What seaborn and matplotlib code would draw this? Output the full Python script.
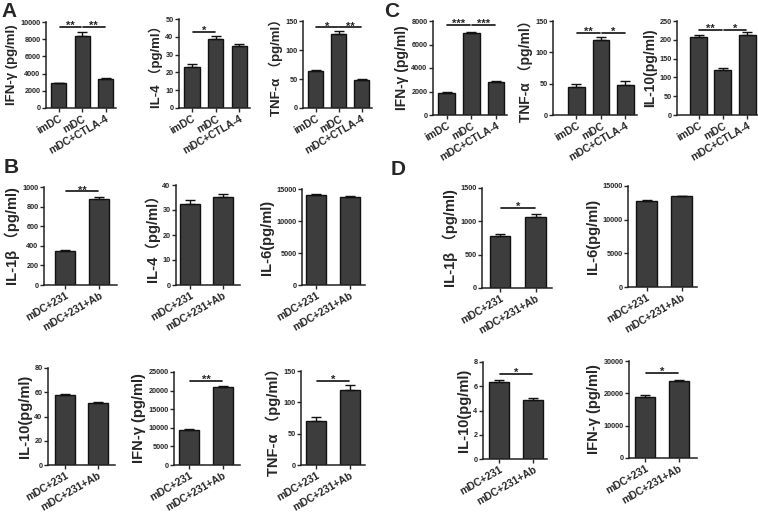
import numpy as np
import pandas as pd
import seaborn as sns
import matplotlib.pyplot as plt

# groups
grp3 = ["imDC", "mDC", "mDC+CTLA-4"]
grp2 = ["mDC+231", "mDC+231+Ab"]

# panel A (imDC / mDC / mDC+CTLA-4)
a_ifng = [2850, 8400, 3400]
a_ifng_err = [80, 400, 120]
a_il4 = [23, 39, 35]
a_il4_err = [1.5, 1.2, 1.0]
a_tnf = [63, 127, 48]
a_tnf_err = [3, 6, 2]

# panel C
c_ifng = [1900, 6950, 2800]
c_ifng_err = [50, 80, 60]
c_tnf = [45, 120, 48]
c_tnf_err = [5, 4, 6]
c_il10 = [207, 119, 213]
c_il10_err = [7, 5, 8]

# panel B (mDC+231 / mDC+231+Ab)
b_il1b = [352, 880]
b_il1b_err = [8, 22]
b_il4 = [32.5, 35.3]
b_il4_err = [1.5, 1.0]
b_il6 = [14000, 13800]
b_il6_err = [150, 150]
b_il10 = [57.5, 51.5]
b_il10_err = [0.8, 0.8]
b_ifng = [9500, 21000]
b_ifng_err = [300, 200]
b_tnf = [70, 120]
b_tnf_err = [6, 7]

# panel D
d_il1b = [780, 1060]
d_il1b_err = [25, 45]
d_il6 = [12700, 13450]
d_il6_err = [150, 100]
d_il10 = [6.35, 4.85]
d_il10_err = [0.2, 0.15]
d_ifng = [18900, 23900]
d_ifng_err = [600, 200]

sns.set_style("ticks")
plt.rcParams['font.family'] = ['Liberation Sans', 'Noto Sans CJK SC']
plt.rcParams['font.weight'] = 'bold'

W, H = 758, 514
fig = plt.figure(figsize=(W / 100, H / 100), dpi=100)
BAR = "#3d3d3d"


def panel(box, groups, vals, errs, ylabel, ymax, step, sigs, width, xlim,
          lab_fs=9.5, tick_fs=7.5):
    l, r, t, b = box
    ax = fig.add_axes([l / W, 1 - b / H, (r - l) / W, (b - t) / H])
    df = pd.DataFrame({"group": groups, "value": vals})
    sns.barplot(data=df, x="group", y="value", ax=ax, color=BAR, saturation=1,
                edgecolor="#111111", linewidth=1.0, width=width, errorbar=None)
    xs = [p.get_x() + p.get_width() / 2 for p in ax.patches]
    ax.errorbar(xs, vals, yerr=[np.zeros(len(errs)), errs], fmt="none",
                ecolor="#111111", elinewidth=1.0, capsize=3.5, capthick=1.0)
    for i, j, h, txt in sigs:
        ax.plot([xs[i] + 0.03, xs[j] - 0.03], [h, h], color="#111111", lw=1.2, clip_on=False)
        ax.annotate(txt, ((xs[i] + xs[j]) / 2, h), xytext=(0, -3), textcoords="offset points",
                    ha="center", va="bottom", fontsize=8, fontweight="bold")
    ax.set_ylim(0, ymax)
    ax.set_yticks(np.arange(0, ymax + step / 2, step))
    ax.set_xlim(*xlim)
    ax.set_xlabel("")
    ax.set_ylabel(ylabel, fontsize=lab_fs, fontweight="bold", labelpad=1.5)
    for s in ["top", "right"]:
        ax.spines[s].set_visible(False)
    for s in ["left", "bottom"]:
        ax.spines[s].set_linewidth(1.1)
        ax.spines[s].set_color("#222222")
    ax.tick_params(axis="y", labelsize=5.2, length=3, width=1, pad=1)
    ax.tick_params(axis="x", length=3, width=1, pad=1)
    for lab in ax.get_yticklabels():
        lab.set_fontweight("bold")
    ax.set_xticks(range(len(groups)))
    ax.set_xticklabels(groups, rotation=30, ha="right", rotation_mode="anchor",
                       fontsize=tick_fs, fontweight="bold")
    return ax


x3 = (-0.55, 2.45)

# A
panel((46, 116, 22, 108), grp3, a_ifng, a_ifng_err, "IFN-γ (pg/ml)", 10000, 2000,
      [(0, 1, 9400, "**"), (1, 2, 9400, "**")], 0.64, x3)
panel((179, 250, 19, 108), grp3, a_il4, a_il4_err, "IL-4 （pg/ml）", 50, 10,
      [(0, 1, 42.7, "*")], 0.64, x3)
panel((303, 372, 21, 108), grp3, a_tnf, a_tnf_err, "TNF-α （pg/ml）", 150, 50,
      [(0, 1, 139, "*"), (1, 2, 139, "**")], 0.64, x3)

# C
panel((433, 507, 21, 115), grp3, c_ifng, c_ifng_err, "IFN-γ (pg/ml)", 8000, 2000,
      [(0, 1, 7650, "***"), (1, 2, 7650, "***")], 0.68, x3, 10)
panel((553, 637, 21, 115), grp3, c_tnf, c_tnf_err, "TNF-α （pg/ml）", 150, 50,
      [(0, 1, 131, "**"), (1, 2, 131, "*")], 0.68, (-0.95, 2.47), 10)
panel((677, 758, 21, 115), grp3, c_il10, c_il10_err, "IL-10(pg/ml)", 250, 50,
      [(0, 1, 226, "**"), (1, 2, 226, "*")], 0.7, (-0.9, 2.45), 10)

# B row 1
panel((44, 117, 187, 285), grp2, b_il1b, b_il1b_err, "IL-1β （pg/ml)", 1000, 200,
      [(0, 1, 956, "**")], 0.59, (-0.62, 1.53), 10.5)
panel((176, 240, 185, 285), grp2, b_il4, b_il4_err, "IL-4（pg/ml）", 40, 10,
      [], 0.6, (-0.42, 1.52), 10.5)
panel((302, 365, 189, 285), grp2, b_il6, b_il6_err, "IL-6(pg/ml)", 15000, 5000,
      [], 0.6, (-0.43, 1.45), 10.5)

# B row 2
panel((48, 115, 368, 465), grp2, b_il10, b_il10_err, "IL-10(pg/ml)", 80, 20,
      [], 0.6, (-0.52, 1.52), 10.5)
panel((174, 240, 372, 465), grp2, b_ifng, b_ifng_err, "IFN-γ (pg/ml)", 25000, 5000,
      [(0, 1, 22600, "**")], 0.6, (-0.46, 1.51), 10.5)
panel((301, 365, 371, 465), grp2, b_tnf, b_tnf_err, "TNF-α （pg/ml）", 150, 50,
      [(0, 1, 134, "*")], 0.6, (-0.46, 1.45), 10.5)

# D row 1
panel((482, 552, 188, 288), grp2, d_il1b, d_il1b_err, "IL-1β （pg/ml)", 1500, 500,
      [(0, 1, 1200, "*")], 0.58, (-0.51, 1.46), 10.5)
panel((628, 697, 186, 287), grp2, d_il6, d_il6_err, "IL-6(pg/ml)", 15000, 5000,
      [], 0.58, (-0.53, 1.44), 10.5)

# D row 2
panel((483, 547, 362, 459), grp2, d_il10, d_il10_err, "IL-10(pg/ml)", 8, 2,
      [(0, 1, 7.0, "*")], 0.59, (-0.47, 1.41), 10.5)
panel((629, 697, 361, 458), grp2, d_ifng, d_ifng_err, "IFN-γ (pg/ml)", 30000, 10000,
      [(0, 1, 26300, "*")], 0.59, (-0.47, 1.53), 10.5)

# panel letters
for letter, (px, py) in {"A": (1, 2), "C": (384, 2), "B": (4, 158), "D": (391, 160)}.items():
    fig.text(px / W, 1 - py / H, letter, fontsize=15, fontweight="bold", ha="left", va="top")

fig.savefig("out.png", dpi=100)
